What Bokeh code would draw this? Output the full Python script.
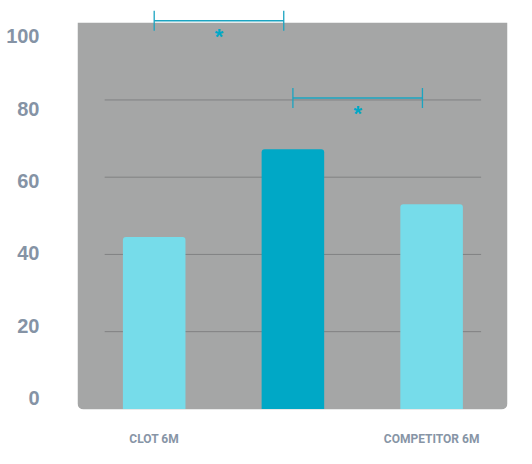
from bokeh.plotting import figure
from bokeh.models import Range1d, LinearAxis, FixedTicker
from bokeh.core.properties import value
from bokeh.embed import file_html
from bokeh.resources import INLINE

# ---- data ----
categories = ["CLOT 6M", "", "COMPETITOR 6M"]
values = [44.5, 67.25, 53.0]
bar_colors = ["#76dcea", "#00a8c6", "#76dcea"]
tick_values = [0, 20, 40, 60, 80, 100]
bracket_from = [0, 1]
bracket_to = [1, 2]
bracket_level = [100.5, 80.5]
bracket_marks = ["*", "*"]

# ---- layout constants ----
W, H = 516, 448
FRAME_LEFT, FRAME_RIGHT, FRAME_BOTTOM = 77, 507, 409
PX_PER_X = 138.7
PX_PER_Y = 3.862
FRAME_W = FRAME_RIGHT - FRAME_LEFT
FRAME_H = FRAME_BOTTOM
x_start = -(153.7 - FRAME_LEFT) / PX_PER_X
x_end = x_start + FRAME_W / PX_PER_X
y_start = -0.155
y_end = y_start + FRAME_H / PX_PER_Y

xs = list(range(len(categories)))

p = figure(width=W, height=H,
           x_range=Range1d(x_start, x_end), y_range=Range1d(y_start, y_end),
           output_backend="svg", toolbar_location=None,
           x_axis_location=None, y_axis_location=None,
           min_border_left=FRAME_LEFT, min_border_right=W - FRAME_RIGHT,
           min_border_top=0, min_border_bottom=H - FRAME_BOTTOM)
p.grid.visible = False
p.outline_line_color = None
p.background_fill_color = "white"
p.border_fill_color = "white"

# gray panel with rounded bottom corners
p.quad(left=[x_start], right=[x_end], bottom=[y_start], top=[tick_values[-1]],
       fill_color="#a5a6a6", line_color=None, border_radius=(0, 0, 6, 6))

# partial gridlines
grid_vals = [t for t in tick_values if 0 < t < tick_values[-1]]
gx0 = 1 - 1.357
gx1 = 1 + 1.357
p.segment(x0=[gx0] * len(grid_vals), x1=[gx1] * len(grid_vals),
          y0=grid_vals, y1=grid_vals, line_color="#808182", line_width=1)

# bars
p.vbar(x=xs, top=values, bottom=0, width=0.451, fill_color=bar_colors,
       line_color=None, border_radius=(3, 3, 0, 0))

# significance brackets
b_end = [t - 0.066 for t in bracket_to]
br_color = "#1ba4c1"
p.segment(x0=bracket_from, x1=b_end, y0=bracket_level, y1=bracket_level,
          line_color=br_color, line_width=1.3)
p.segment(x0=bracket_from, x1=bracket_from,
          y0=[l - 2.6 for l in bracket_level], y1=[l + 2.6 for l in bracket_level],
          line_color=br_color, line_width=1.3)
p.segment(x0=b_end, x1=b_end,
          y0=[l - 2.6 for l in bracket_level], y1=[l + 2.6 for l in bracket_level],
          line_color=br_color, line_width=1.3)
p.text(x=[(a + b) / 2 for a, b in zip(bracket_from, b_end)],
       y=[l - 4.0 for l in bracket_level], text=bracket_marks,
       text_align="center", text_baseline="alphabetic",
       text_font=value("Liberation Sans"), text_font_style="bold",
       text_font_size="22px", text_color="#00a8c6")

# left axis (labels evenly spaced on their own scale)
p.extra_y_ranges = {"labels": Range1d(-3.09, 109.86)}
yax = LinearAxis(y_range_name="labels", ticker=FixedTicker(ticks=tick_values))
yax.axis_line_color = None
yax.major_tick_line_color = None
yax.minor_tick_line_color = None
yax.major_tick_out = 0
yax.major_tick_in = 0
yax.major_label_standoff = 38
yax.major_label_text_font = "Liberation Sans"
yax.major_label_text_font_style = "bold"
yax.major_label_text_font_size = "20px"
yax.major_label_text_color = "#8593a5"
p.add_layout(yax, "left")

# bottom axis with category labels
xax = LinearAxis(ticker=FixedTicker(ticks=xs),
                 major_label_overrides={i: (c if c else " ") for i, c in zip(xs, categories)})
xax.axis_line_color = None
xax.major_tick_line_color = None
xax.minor_tick_line_color = None
xax.major_tick_out = 0
xax.major_tick_in = 0
xax.major_label_standoff = 22
xax.major_label_text_font = "Roboto"
xax.major_label_text_font_style = "bold"
xax.major_label_text_font_size = "12px"
xax.major_label_text_color = "#8795a6"
p.add_layout(xax, "below")

open("out.html", "w").write(file_html(p, INLINE))
